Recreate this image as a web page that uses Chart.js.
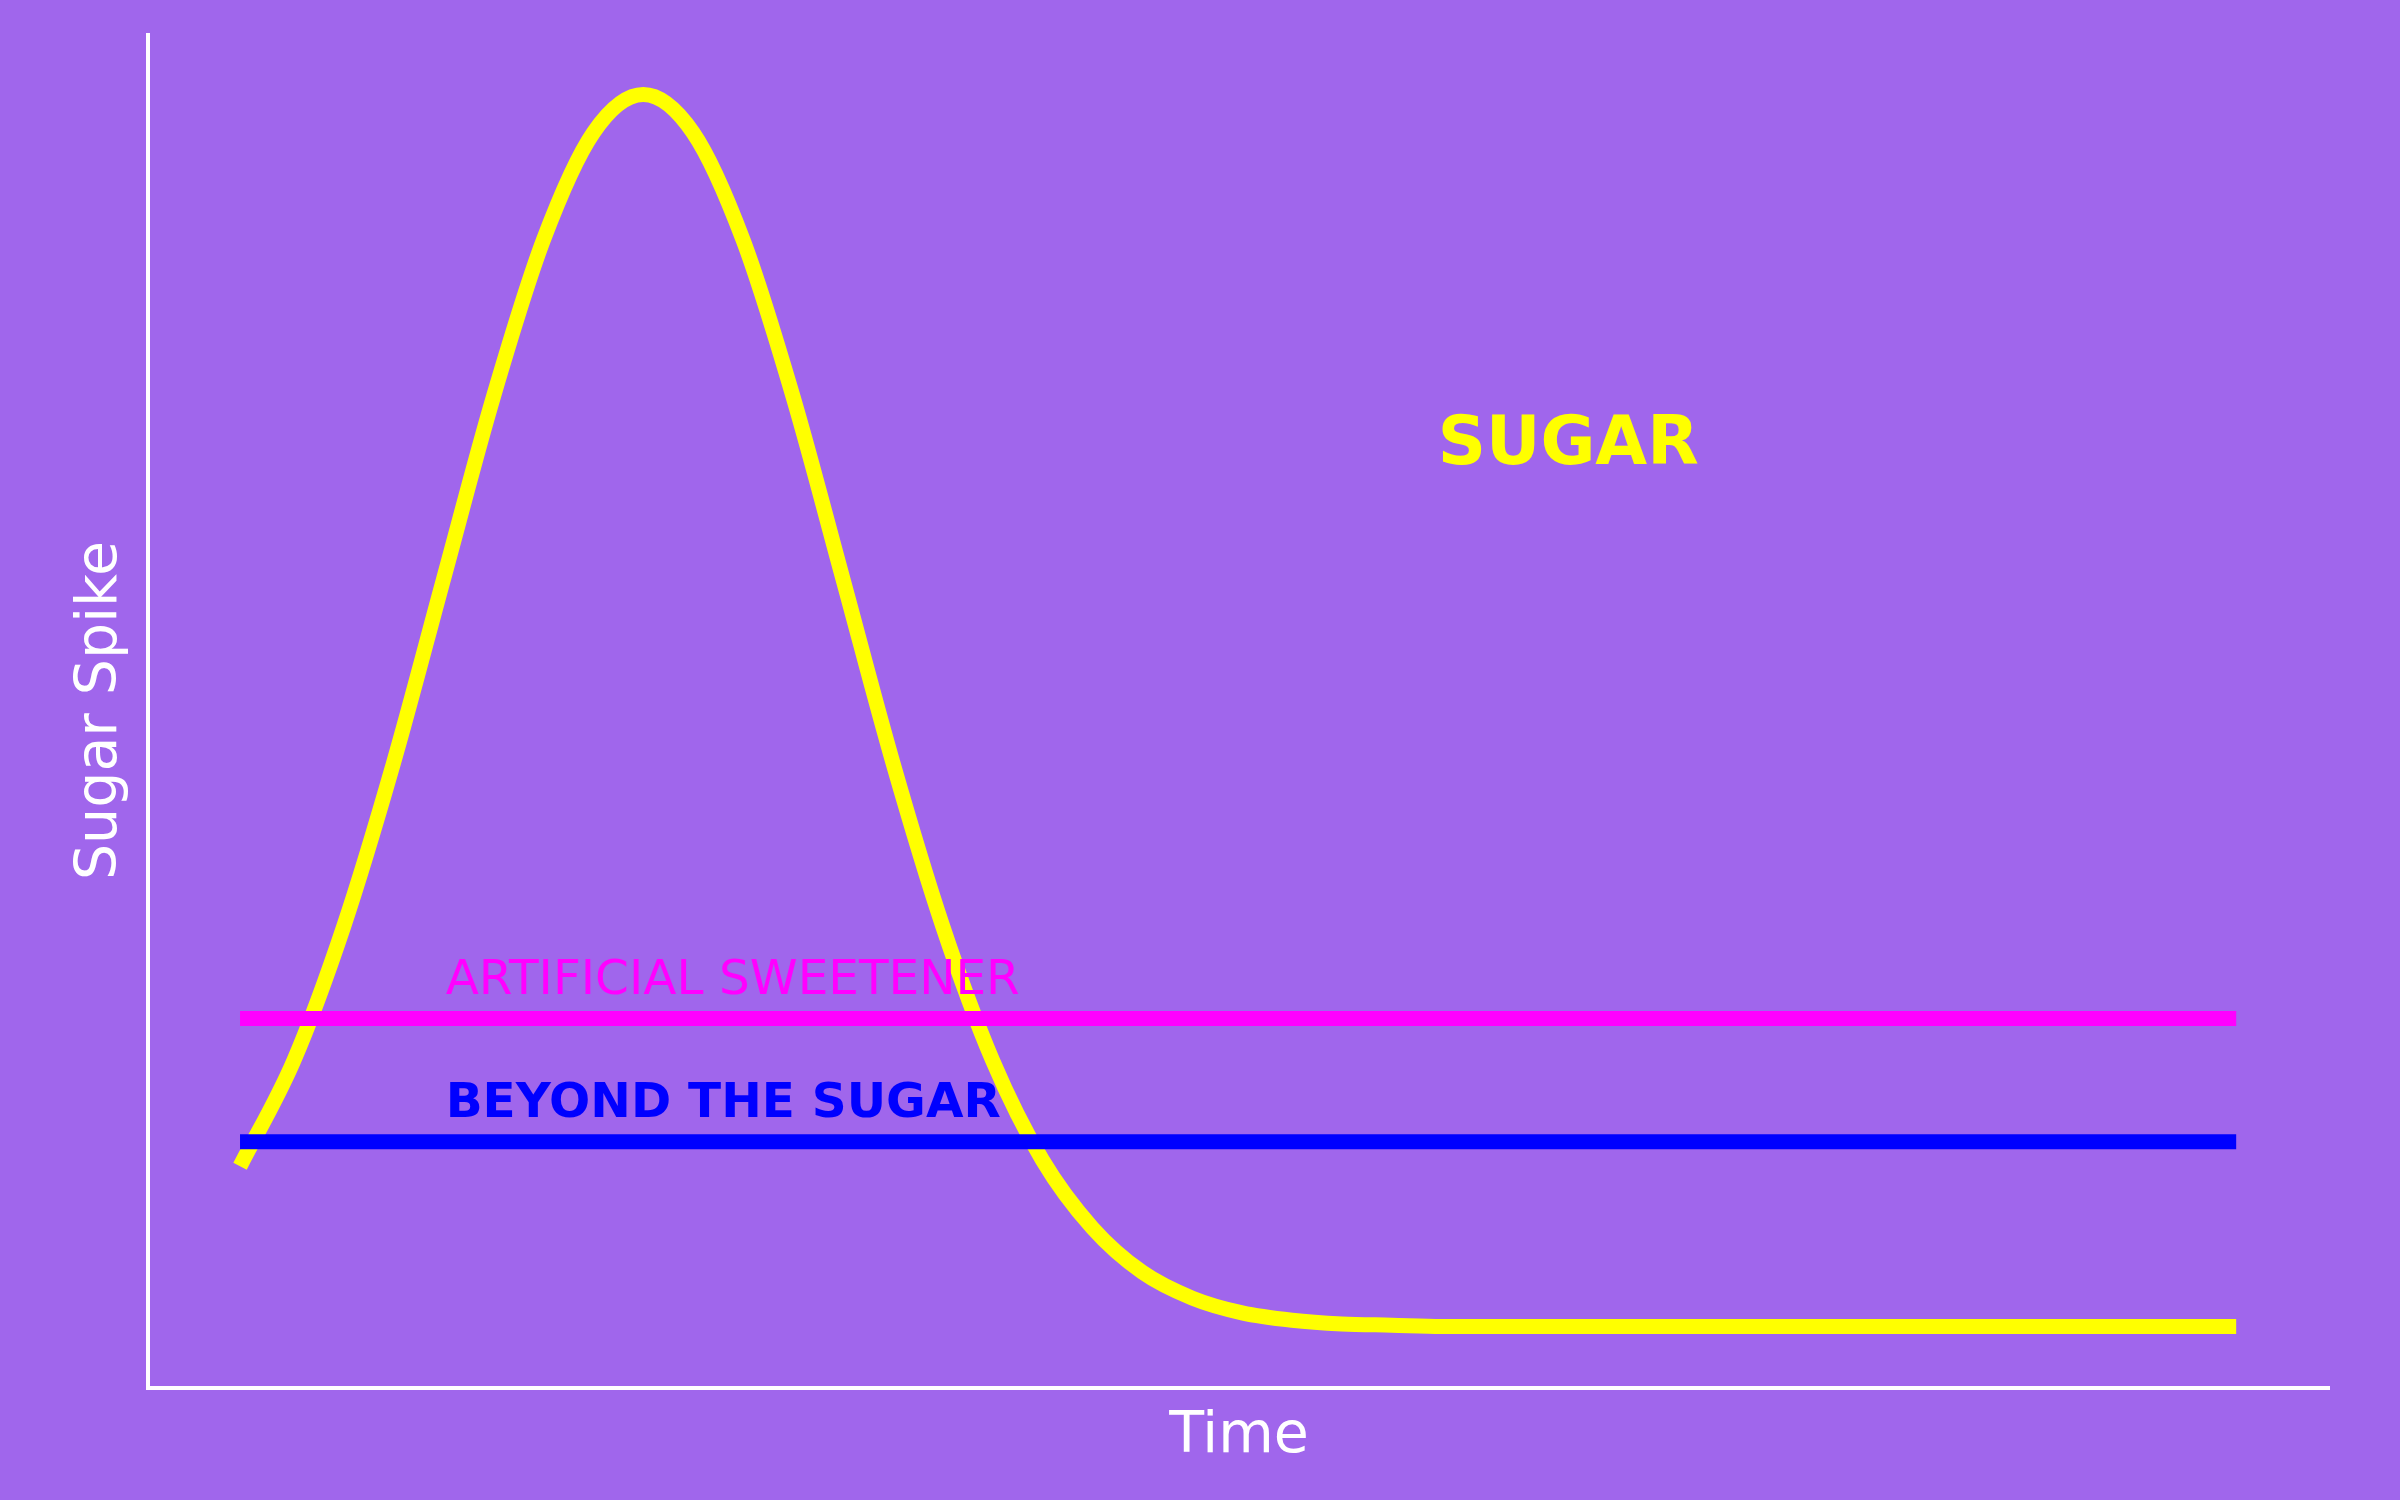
<!DOCTYPE html>
<html>
<head>
<meta charset="utf-8">
<script src="https://cdn.jsdelivr.net/npm/chart.js@4.4.1/dist/chart.umd.min.js"></script>
<style>
  html, body { margin: 0; padding: 0; background: #a066ec; }
  #wrap { width: 2400px; height: 1500px; }
</style>
</head>
<body>
<div id="wrap"><canvas id="chart" width="2400" height="1500"></canvas></div>
<script>
// Sugar curve: spikes around t=2, then flattens out.
const timeX = [0, 0.27, 0.52, 0.77, 1.02, 1.27, 1.52, 1.77, 2.02, 2.27, 2.52, 2.77, 3.02, 3.27, 3.52, 3.77, 4.02, 4.27, 4.52, 4.77, 5.02, 5.27, 5.52, 5.77, 6.02, 7, 8, 9, 10];
const sugarY = [1.3, 2.16, 3.25, 4.58, 6.07, 7.55, 8.82, 9.69, 10, 9.69, 8.82, 7.55, 6.07, 4.58, 3.25, 2.16, 1.35, 0.8, 0.44, 0.23, 0.11, 0.05, 0.02, 0.01, 0, 0, 0, 0, 0];

// Flat reference lines
const flatX = [0, 10];
const sweetenerY = [2.5, 2.5];
const beyondY = [1.5, 1.5];

// Text labels placed in data coordinates (left edge, baseline)
const labels = [
  { text: "SUGAR", x: 6, y: 7, color: "#ffff00", font: "bold 67px 'DejaVu Sans'" },
  { text: "ARTIFICIAL SWEETENER", x: 1.03, y: 2.7, color: "#ff00ff", font: "48.5px 'DejaVu Sans'" },
  { text: "BEYOND THE SUGAR", x: 1.03, y: 1.7, color: "#0000ff", font: "bold 48.5px 'DejaVu Sans'" },
];

const xTitle = "Time";
const yTitle = "Sugar Spike";

const toPoints = (xs, ys) => xs.map((x, i) => ({ x: x, y: ys[i] }));

// Draws the two white axis lines, the axis titles and the in-plot labels.
const decorations = {
  id: "decorations",
  beforeDatasetsDraw(chart) {
    const { ctx, chartArea: a } = chart;
    ctx.save();
    ctx.strokeStyle = "#ffffff";
    ctx.lineWidth = 4;
    ctx.lineCap = "butt";
    ctx.beginPath();
    ctx.moveTo(a.left, a.top);
    ctx.lineTo(a.left, a.bottom);
    ctx.lineTo(a.right, a.bottom);
    ctx.stroke();

    ctx.fillStyle = "#ffffff";
    ctx.font = "57px 'DejaVu Sans'";
    ctx.textAlign = "center";
    ctx.textBaseline = "alphabetic";
    ctx.fillText(xTitle, (a.left + a.right) / 2, a.bottom + 64);

    ctx.translate(a.left - 32, (a.top + a.bottom) / 2);
    ctx.rotate(-Math.PI / 2);
    ctx.fillText(yTitle, 0, 0);
    ctx.restore();
  },
  afterDatasetsDraw(chart) {
    const { ctx } = chart;
    const xs = chart.scales.x;
    const ys = chart.scales.y;
    ctx.save();
    ctx.textAlign = "left";
    ctx.textBaseline = "alphabetic";
    labels.forEach((l) => {
      ctx.font = l.font;
      ctx.fillStyle = l.color;
      ctx.fillText(l.text, xs.getPixelForValue(l.x), ys.getPixelForValue(l.y));
    });
    ctx.restore();
  },
};

new Chart(document.getElementById("chart"), {
  type: "line",
  data: {
    datasets: [
      {
        label: "beyond",
        data: toPoints(flatX, beyondY),
        borderColor: "#0000ff",
        borderWidth: 15,
        pointRadius: 0,
        order: 1,
      },
      {
        label: "sweetener",
        data: toPoints(flatX, sweetenerY),
        borderColor: "#ff00ff",
        borderWidth: 15,
        pointRadius: 0,
        order: 2,
      },
      {
        label: "sugar",
        data: toPoints(timeX, sugarY),
        borderColor: "#ffff00",
        borderWidth: 15,
        borderCapStyle: "butt",
        pointRadius: 0,
        cubicInterpolationMode: "monotone",
        order: 3,
      },
    ],
  },
  options: {
    responsive: false,
    devicePixelRatio: 1,
    animation: false,
    layout: { padding: { left: 148, right: 70, top: 33, bottom: 112 } },
    plugins: {
      legend: { display: false },
      tooltip: { enabled: false },
    },
    scales: {
      x: { type: "linear", min: -0.461, max: 10.47, display: false },
      y: { type: "linear", min: -0.5, max: 10.5, display: false },
    },
  },
  plugins: [decorations],
});
</script>
</body>
</html>
